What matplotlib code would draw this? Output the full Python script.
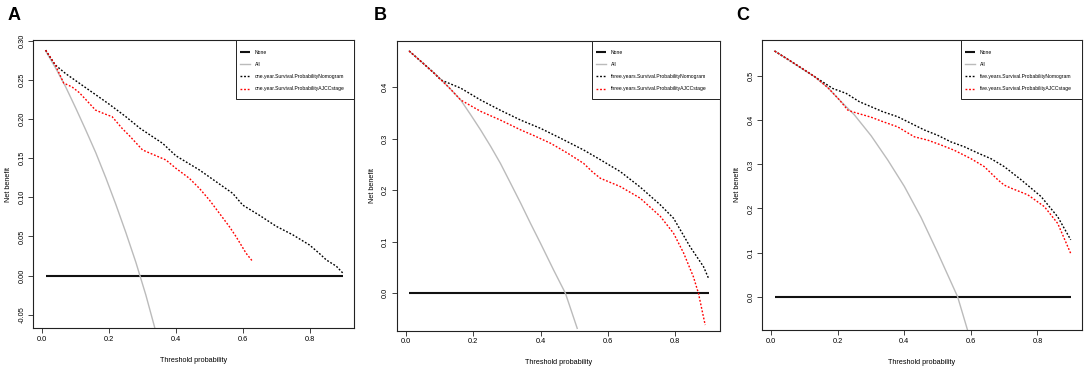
import matplotlib
matplotlib.use("Agg")
import matplotlib.pyplot as plt
from matplotlib.ticker import FormatStrFormatter, FixedLocator
from matplotlib.patches import Rectangle

plt.rcParams['font.family'] = ['Liberation Sans', 'DejaVu Sans']

# ---------------- data ----------------
none_x = [0.01, 0.90]
none_y = [0.0, 0.0]

# Panel A: one year
a_all_t = [0.01, 0.04, 0.07, 0.10, 0.13, 0.16, 0.19, 0.22, 0.25, 0.28, 0.31, 0.34]
a_all_v = [0.287, 0.265, 0.241, 0.214, 0.186, 0.157, 0.125, 0.091, 0.055, 0.017, -0.025, -0.072]
a_nom_t = [0.01, 0.039, 0.07, 0.10, 0.15, 0.20, 0.25, 0.293, 0.36, 0.40, 0.47, 0.50,
           0.57, 0.60, 0.65, 0.70, 0.75, 0.80, 0.83, 0.85, 0.88, 0.90]
a_nom_v = [0.288, 0.269, 0.258, 0.249, 0.234, 0.219, 0.203, 0.188, 0.169, 0.153, 0.135, 0.126,
           0.105, 0.090, 0.077, 0.063, 0.052, 0.039, 0.028, 0.020, 0.012, 0.003]
a_ajcc_t = [0.01, 0.039, 0.064, 0.089, 0.11, 0.13, 0.159, 0.184, 0.209, 0.239, 0.26, 0.30,
            0.33, 0.37, 0.40, 0.44, 0.47, 0.50, 0.53, 0.56, 0.58, 0.61, 0.63]
a_ajcc_v = [0.288, 0.269, 0.246, 0.241, 0.234, 0.225, 0.2115, 0.207, 0.203, 0.188, 0.179, 0.1605,
            0.155, 0.1477, 0.137, 0.1243, 0.1115, 0.0966, 0.0796, 0.0625, 0.0497, 0.0285, 0.0178]

# Panel B: three years
b_all_t = [0.01, 0.05, 0.09, 0.13, 0.163, 0.193, 0.222, 0.252, 0.281, 0.311, 0.341, 0.370,
           0.40, 0.439, 0.474, 0.509]
b_all_v = [0.470, 0.447, 0.424, 0.398, 0.375, 0.346, 0.317, 0.285, 0.252, 0.2136, 0.175, 0.136,
           0.097, 0.045, 0.0, -0.068]
b_nom_t = [0.01, 0.05, 0.084, 0.104, 0.163, 0.222, 0.281, 0.341, 0.40, 0.459, 0.528, 0.578,
           0.637, 0.696, 0.755, 0.795, 0.844, 0.884, 0.899]
b_nom_v = [0.470, 0.447, 0.427, 0.414, 0.398, 0.375, 0.355, 0.336, 0.320, 0.301, 0.278, 0.259,
           0.236, 0.206, 0.172, 0.1456, 0.0905, 0.0517, 0.029]
b_ajcc_t = [0.01, 0.05, 0.084, 0.13, 0.163, 0.222, 0.281, 0.341, 0.38, 0.43, 0.48, 0.528,
            0.555, 0.578, 0.637, 0.696, 0.756, 0.795, 0.825, 0.854, 0.869, 0.889]
b_ajcc_v = [0.470, 0.447, 0.427, 0.398, 0.375, 0.353, 0.336, 0.317, 0.306, 0.291, 0.272, 0.252,
            0.235, 0.223, 0.207, 0.1845, 0.149, 0.1165, 0.078, 0.032, 0.0, -0.0616]

# Panel C: five years
c_all_t = [0.01, 0.05, 0.10, 0.13, 0.17, 0.205, 0.25, 0.30, 0.35, 0.40, 0.45, 0.50, 0.53, 0.56, 0.59]
c_all_v = [0.557, 0.538, 0.513, 0.499, 0.474, 0.446, 0.412, 0.365, 0.31, 0.25, 0.18, 0.10, 0.05, 0.0, -0.076]
c_nom_t = [0.01, 0.05, 0.10, 0.13, 0.185, 0.225, 0.265, 0.335, 0.38, 0.42, 0.46, 0.50, 0.54,
           0.58, 0.62, 0.66, 0.70, 0.751, 0.811, 0.861, 0.90]
c_nom_v = [0.557, 0.538, 0.514, 0.499, 0.472, 0.461, 0.442, 0.4195, 0.408, 0.393, 0.378, 0.366, 0.351,
           0.340, 0.326, 0.313, 0.295, 0.265, 0.227, 0.181, 0.129]
c_ajcc_t = [0.01, 0.05, 0.10, 0.13, 0.17, 0.205, 0.23, 0.245, 0.30, 0.335, 0.38, 0.43, 0.47, 0.51,
            0.55, 0.60, 0.64, 0.681, 0.70, 0.721, 0.771, 0.821, 0.861, 0.90]
c_ajcc_v = [0.557, 0.538, 0.514, 0.499, 0.474, 0.446, 0.423, 0.419, 0.407, 0.397, 0.385, 0.3625, 0.355, 0.344,
            0.332, 0.313, 0.295, 0.265, 0.253, 0.246, 0.231, 0.204, 0.166, 0.098]

panel_letters = ["A", "B", "C"]
series_names = ["one.year", "three.years", "five.years"]
x_ticks = [0.0, 0.2, 0.4, 0.6, 0.8]
a_yticks = [-0.05, 0.0, 0.05, 0.10, 0.15, 0.20, 0.25, 0.30]
b_yticks = [0.0, 0.1, 0.2, 0.3, 0.4]
c_yticks = [0.0, 0.1, 0.2, 0.3, 0.4, 0.5]

# ---------------- figure ----------------
W, H = 1084, 370
fig = plt.figure(figsize=(W / 100, H / 100), dpi=100)

def px_axes(l, t, r, b):
    return fig.add_axes([l / W, 1 - b / H, (r - l) / W, (b - t) / H])

panels = [
    dict(box=(33.3, 40, 354, 328), ylim=(-0.067, 0.301), yt=a_yticks, fmt='%.2f',
         all=(a_all_t, a_all_v), nom=(a_nom_t, a_nom_v), ajcc=(a_ajcc_t, a_ajcc_v),
         letter_x=8, leg_left=236, name=series_names[0], letter=panel_letters[0]),
    dict(box=(396.7, 40.7, 720, 330.7), ylim=(-0.0726, 0.490), yt=b_yticks, fmt='%.1f',
         all=(b_all_t, b_all_v), nom=(b_nom_t, b_nom_v), ajcc=(b_ajcc_t, b_ajcc_v),
         letter_x=374, leg_left=592, name=series_names[1], letter=panel_letters[1]),
    dict(box=(762.3, 40, 1081.7, 330), ylim=(-0.0755, 0.582), yt=c_yticks, fmt='%.1f',
         all=(c_all_t, c_all_v), nom=(c_nom_t, c_nom_v), ajcc=(c_ajcc_t, c_ajcc_v),
         letter_x=736, leg_left=960.5, name=series_names[2], letter=panel_letters[2]),
]

dash = (0, (1.3, 1.3))
for p in panels:
    l, t, r, b = p['box']
    ax = px_axes(l, t, r, b)
    ax.plot(none_x, none_y, color='#111111', lw=1.5, label='None', solid_capstyle='butt')
    ax.plot(*p['all'], color='#BBBBBB', lw=1.0, label='All')
    ax.plot(*p['nom'], color='black', lw=1.0, ls=dash,
            label=f"{p['name']}.Survival.ProbabilityNomogram")
    ax.plot(*p['ajcc'], color='#FF0000', lw=1.0, ls=dash,
            label=f"{p['name']}.Survival.ProbabilityAJCCstage")
    ax.set_xlim(-0.027, 0.933)
    ax.set_ylim(*p['ylim'])
    ax.xaxis.set_major_locator(FixedLocator(x_ticks))
    ax.yaxis.set_major_locator(FixedLocator(p['yt']))
    ax.xaxis.set_major_formatter(FormatStrFormatter('%.1f'))
    ax.yaxis.set_major_formatter(FormatStrFormatter(p['fmt']))
    ax.tick_params(direction='out', length=3.5, width=0.6, labelsize=5.3, pad=2, color='#222222')
    for lab in ax.get_yticklabels():
        lab.set_rotation(90)
        lab.set_va('center')
    for s in ax.spines.values():
        s.set_linewidth(0.8)
        s.set_color('#222222')
    ax.set_xlabel('Threshold probability', fontsize=5.2, labelpad=10)
    ax.set_ylabel('Net benefit', fontsize=5.2, labelpad=4.5)

    # legend box (R style: fixed box at top-right corner)
    lx = p['leg_left']
    box = Rectangle((lx / W, 1 - 98.5 / H), (r - lx) / W, (98.5 - t) / H,
                    transform=fig.transFigure, fill=True, facecolor='white',
                    edgecolor='#222222', lw=0.7, zorder=5, clip_on=False)
    ax.add_patch(box)
    leg = ax.legend(loc='upper left', bbox_to_anchor=((lx + 4) / W, 1 - 49.5 / H),
                    bbox_transform=fig.transFigure, frameon=False, fontsize=3.6,
                    handlelength=2.0, handletextpad=1.0, labelspacing=1.45, borderpad=0,
                    borderaxespad=0)
    leg.set_zorder(6)
    fig.text(p['letter_x'] / W, 1 - 7.5 / H, p['letter'], fontsize=13, fontweight='bold',
             ha='left', va='top')

fig.savefig('out.png', dpi=100)
